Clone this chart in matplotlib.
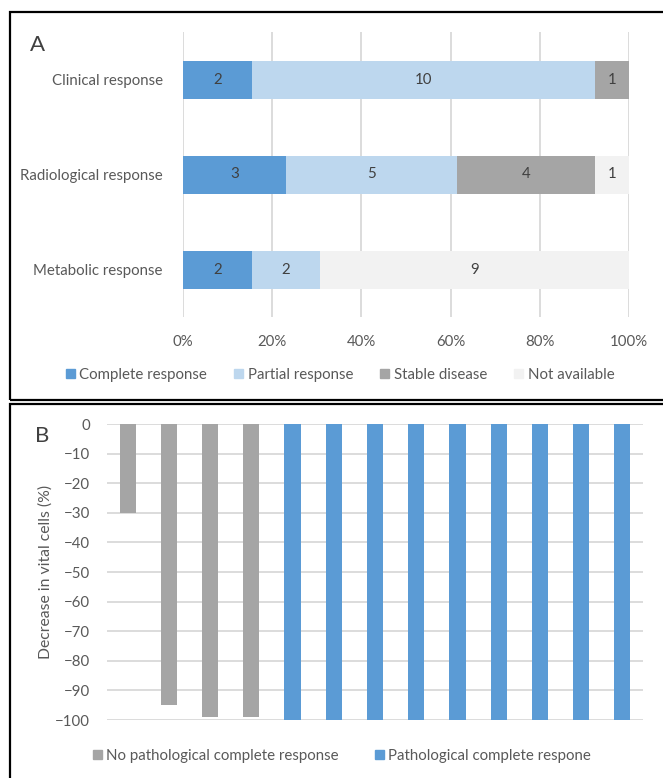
import numpy as np
import matplotlib
matplotlib.use('Agg')
import matplotlib.pyplot as plt
from matplotlib.patches import Rectangle, Patch

plt.rcParams['font.family'] = ['Lato', 'DejaVu Sans']

# Panel A: response counts per assessment type
RESPONSE_TYPES = ["Clinical response", "Radiological response", "Metabolic response"]
COMPLETE = [2, 3, 2]
PARTIAL = [10, 5, 2]
STABLE = [1, 4, 0]
NOT_AVAILABLE = [0, 1, 9]
SERIES_A = ["Complete response", "Partial response", "Stable disease", "Not available"]
COLORS_A = ["#5B9BD5", "#BDD7EE", "#A5A5A5", "#F2F2F2"]

# Panel B: decrease in vital tumour cells per patient
DECREASE = [-30, -95, -99, -99, -100, -100, -100, -100, -100, -100, -100, -100, -100]
PCR = [False, False, False, False, True, True, True, True, True, True, True, True, True]
SERIES_B = ["No pathological complete response", "Pathological complete respone"]
COLORS_B = ["#A5A5A5", "#5B9BD5"]

TEXT = "#595959"
GRID = "#D9D9D9"
FS = 10.8
W, H = 663, 778

fig = plt.figure(figsize=(W / 100, H / 100), dpi=100)


def px_axes(left, top, right, bottom):
    return fig.add_axes([left / W, 1 - bottom / H, (right - left) / W, (bottom - top) / H])


# panel frames
for (x0, y0, x1, y1) in [(10, 12, 680, 400), (10, 404, 680, 800)]:
    fig.patches.append(Rectangle((x0 / W, 1 - y1 / H), (x1 - x0) / W, (y1 - y0) / H,
                                 transform=fig.transFigure, fill=False,
                                 edgecolor="black", linewidth=1.6))

# ---- Panel A: 100% stacked horizontal bars ----
axA = px_axes(183, 32, 629, 317)
counts = np.array([COMPLETE, PARTIAL, STABLE, NOT_AVAILABLE], dtype=float)
totals = counts.sum(axis=0)
shares = counts / totals
y = np.arange(len(RESPONSE_TYPES))
left = np.zeros(len(RESPONSE_TYPES))
for k in range(len(SERIES_A)):
    axA.barh(y, shares[k], left=left, height=0.4, color=COLORS_A[k], zorder=2)
    for i in range(len(y)):
        if counts[k, i] > 0:
            axA.text(left[i] + shares[k, i] / 2, y[i], f"{int(counts[k, i])}",
                     ha="center", va="center", fontsize=FS, color="#404040", zorder=3)
    left += shares[k]
axA.set_xlim(0, 1)
axA.set_ylim(2.5, -0.5)
axA.set_yticks(y)
axA.set_yticklabels(RESPONSE_TYPES)
axA.set_xticks(np.linspace(0, 1, 6))
axA.set_xticklabels([f"{int(v * 100)}%" for v in np.linspace(0, 1, 6)])
axA.tick_params(axis="y", length=0, pad=14.5, labelsize=FS, labelcolor=TEXT)
axA.tick_params(axis="x", length=0, pad=13, labelsize=FS, labelcolor=TEXT)
axA.grid(axis="x", color=GRID, linewidth=1.3, zorder=0)
for s in axA.spines.values():
    s.set_visible(False)
fig.text(38 / W, 1 - 45 / H, "A", fontsize=16, color="#404040", ha="center", va="center")
fig.legend(handles=[Patch(color=c, label=l) for c, l in zip(COLORS_A, SERIES_A)],
           loc="center", bbox_to_anchor=(340 / W, 1 - 375 / H), ncol=4, frameon=False,
           fontsize=FS, labelcolor=TEXT, handlelength=0.6, handleheight=0.6,
           handletextpad=0.3, columnspacing=1.8)

# ---- Panel B: waterfall of vital cell decrease ----
axB = px_axes(107, 424, 643, 720)
x = np.arange(len(DECREASE))
colors = [COLORS_B[1] if p else COLORS_B[0] for p in PCR]
axB.bar(x, DECREASE, width=0.39, color=colors, zorder=2)
axB.set_xlim(-0.5, len(DECREASE) - 0.5)
axB.set_ylim(-100, 0)
axB.set_yticks(np.arange(-100, 1, 10))
axB.set_xticks([])
axB.tick_params(axis="y", length=0, pad=12, labelsize=FS, labelcolor=TEXT)
axB.grid(axis="y", color=GRID, linewidth=1.3, zorder=0)
for s in axB.spines.values():
    s.set_visible(False)
axB.set_ylabel("Decrease in vital cells (%)", fontsize=11.3, color=TEXT)
axB.yaxis.set_label_coords(53 / W, 1 - 572 / H, transform=fig.transFigure)
fig.text(42 / W, 1 - 436 / H, "B", fontsize=16, color="#404040", ha="center", va="center")
fig.legend(handles=[Patch(color=c, label=l) for c, l in zip(COLORS_B, SERIES_B)],
           loc="center", bbox_to_anchor=(342 / W, 1 - 756 / H), ncol=2, frameon=False,
           fontsize=FS, labelcolor=TEXT, handlelength=0.6, handleheight=0.6,
           handletextpad=0.3, columnspacing=2.4)

fig.savefig("out.png", dpi=100)
